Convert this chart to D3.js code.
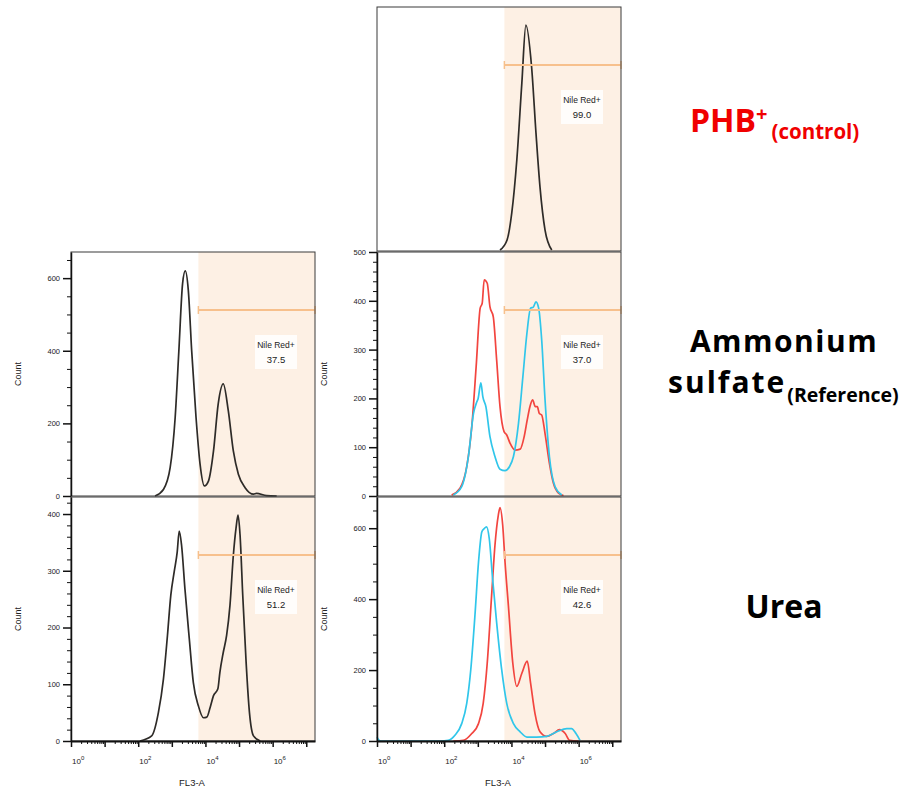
<!DOCTYPE html>
<html>
<head>
<meta charset="utf-8">
<script src="https://cdn.jsdelivr.net/npm/d3@7"></script>
<style>
  body { margin: 0; background: #fff; }
  text { font-family: "Liberation Sans", Arial, sans-serif; }
  text.title { font-family: "Open Sans", "Noto Sans", sans-serif; font-weight: bold; }
</style>
</head>
<body>
<div id="chart-area"></div>
<script>
// histogram traces, [log10 FL3-A, count]
const phbControl = [[3.66,4],[3.87,45],[4.01,156],[4.16,373],[4.31,689],[4.43,926],[4.60,754],[4.73,484],[4.85,262],[5.0,86],[5.2,4]];

const amsBlack = [[2.5,0],[2.75,18],[2.95,78],[3.10,217],[3.21,401],[3.32,585],[3.40,620],[3.49,567],[3.59,401],[3.72,217],[3.84,88],[3.97,28],[4.09,41],[4.24,124],[4.38,254],[4.53,309],[4.68,235],[4.83,124],[4.98,60],[5.18,23],[5.43,5],[5.52,7],[5.82,1],[6.12,0]];
const amsRed = [[2.22,2],[2.47,16],[2.67,60],[2.82,142],[2.95,265],[3.07,385],[3.13,395],[3.19,443],[3.28,436],[3.36,388],[3.46,367],[3.56,279],[3.66,183],[3.78,132],[3.86,125],[3.96,108],[4.11,94],[4.26,96],[4.38,122],[4.47,156],[4.55,183],[4.63,197],[4.71,183],[4.77,183],[4.83,169],[4.90,166],[5.0,128],[5.13,67],[5.25,26],[5.40,6],[5.55,1]];
const amsCyan = [[2.27,2],[2.52,19],[2.72,81],[2.87,169],[2.97,193],[3.01,200],[3.09,232],[3.15,203],[3.24,183],[3.36,122],[3.51,81],[3.66,55],[3.81,52],[3.94,60],[4.06,81],[4.21,149],[4.34,244],[4.46,333],[4.57,385],[4.65,387],[4.73,398],[4.81,385],[4.90,320],[5.0,197],[5.13,81],[5.30,19],[5.50,2]];

const ureaBlack = [[2.05,0],[2.40,9],[2.60,50],[2.75,109],[2.87,186],[2.97,257],[3.07,298],[3.16,333],[3.22,370],[3.29,345],[3.39,268],[3.52,180],[3.64,103],[3.79,62],[3.94,41],[4.04,42],[4.14,59],[4.24,80],[4.37,92],[4.43,121],[4.53,156],[4.63,186],[4.73,239],[4.83,327],[4.91,375],[4.97,398],[5.03,363],[5.11,257],[5.21,139],[5.31,50],[5.43,9],[5.63,0]];
const ureaRed = [[2.27,0],[2.57,2],[2.82,21],[3.02,49],[3.16,106],[3.28,220],[3.41,410],[3.51,552],[3.61,637],[3.66,658],[3.74,609],[3.81,504],[3.91,381],[4.04,220],[4.16,154],[4.31,191],[4.47,225],[4.57,163],[4.70,78],[4.85,26],[5.05,13],[5.25,21],[5.43,32],[5.60,21],[5.73,2],[6.0,0]];
const ureaCyan = [[0.0,11],[0.05,3],[0.12,0],[1.88,0],[2.12,2],[2.32,16],[2.52,49],[2.67,106],[2.79,201],[2.92,362],[3.02,504],[3.12,590],[3.19,599],[3.26,604],[3.34,571],[3.44,457],[3.56,334],[3.71,201],[3.86,106],[4.06,49],[4.26,26],[4.46,11],[4.75,11],[5.05,13],[5.35,26],[5.65,35],[5.79,35],[5.92,21],[6.04,2]];

const gateStart = 3.79;          // log10 of gate lower bound
const gateName = "Nile Red+";
const gateValues = ["99.0", "37.5", "37.0", "51.2", "42.6"];
const yMaxes = [1000, 672, 500, 430, 688];
const yMajor = [0, 200, 100, 100, 200];
const yMinor = [0, 50, 20, 20, 50];
const xLabelDecades = [0, 2, 4, 6];
const xMaxDecade = 7.26;

const rowNames = ["PHB", "Ammonium", "sulfate", "Urea"];

// layout
const size = 244;
const colX = [71, 377];
const rowY = [7, 252, 497];
const shade = "#fdf0e4", gateColor = "#f7c08c";
const black = "#2e2b28", red = "#f2453f", cyan = "#30c6ea";

const panels = [
    {col:1, row:0, series:[[phbControl, black]], yaxis:false, xaxis:false},
    {col:0, row:1, series:[[amsBlack, black]], yaxis:true, xaxis:false},
    {col:1, row:1, series:[[amsRed, red],[amsCyan, cyan]], yaxis:true, xaxis:false},
    {col:0, row:2, series:[[ureaBlack, black]], yaxis:true, xaxis:true},
    {col:1, row:2, series:[[ureaRed, red],[ureaCyan, cyan]], yaxis:true, xaxis:true}
];

const svg = d3.select("#chart-area").append("svg")
    .attr("width", 903)
    .attr("height", 789);

panels.forEach((p, i) => {
    const left = colX[p.col], top = rowY[p.row];
    const g = svg.append("g").attr("transform", `translate(${left}, ${top})`);

    const x = d3.scaleLog().domain([1, Math.pow(10, xMaxDecade)]).range([0, size]);
    const y = d3.scaleLinear().domain([0, yMaxes[i]]).range([size, 0]);
    const xd = v => x(Math.pow(10, v));

    g.append("rect").attr("width", size).attr("height", size).attr("fill", "#fff");
    // gate shading
    g.append("rect")
        .attr("x", xd(gateStart)).attr("width", size - xd(gateStart))
        .attr("height", size).attr("fill", shade);

    // curves
    const line = d3.line()
        .x(d => xd(d[0]))
        .y(d => y(d[1]))
        .curve(d3.curveMonotoneX);
    p.series.forEach(s => {
        g.append("path")
            .datum(s[0])
            .attr("fill", "none")
            .attr("stroke", s[1])
            .attr("stroke-width", 1.7)
            .attr("d", line);
    });

    // gate bar
    const gy = 58;
    const gx0 = xd(gateStart), gx1 = size;
    g.append("line").attr("x1", gx0).attr("x2", gx1).attr("y1", gy).attr("y2", gy)
        .attr("stroke", gateColor).attr("stroke-width", 2);
    [gx0, gx1].forEach(v => g.append("line").attr("x1", v).attr("x2", v)
        .attr("y1", gy - 4).attr("y2", gy + 4)
        .attr("stroke", gateColor).attr("stroke-width", 1.5));

    // gate label
    const lx = xd(6.1);
    g.append("rect").attr("x", lx - 21).attr("y", 83).attr("width", 42).attr("height", 34)
        .attr("fill", "#fffdfb");
    g.append("text").attr("x", lx).attr("y", 96).attr("text-anchor", "middle")
        .attr("font-size", "8.5px").attr("fill", "#222").text(gateName);
    g.append("text").attr("x", lx).attr("y", 111).attr("text-anchor", "middle")
        .attr("font-size", "9.5px").attr("fill", "#222").text(gateValues[i]);

    // frame
    g.append("rect").attr("width", size).attr("height", size)
        .attr("fill", "none").attr("stroke", "#3a3a3a").attr("stroke-width", 1);

    //Y
    if (p.yaxis) {
        const yAxis = d3.axisLeft(y)
            .tickValues(d3.range(0, yMaxes[i] + 1, yMinor[i]))
            .tickFormat(d => d % yMajor[i] === 0 ? d : "")
            .tickSizeOuter(0)
            .tickPadding(4);
        const ya = g.append("g").call(yAxis);
        ya.select(".domain").attr("stroke", "#111").attr("stroke-width", 1.5);
        ya.selectAll(".tick line")
            .attr("x2", d => d % yMajor[i] === 0 ? -8 : -4)
            .attr("stroke", "#111").attr("stroke-width", d => d % yMajor[i] === 0 ? 1.5 : 1);
        ya.selectAll(".tick text")
            .attr("x", -11)
            .attr("font-size", "7.5px").attr("fill", "#222")
            .style("font-family", "'Liberation Sans', Arial, sans-serif");

        g.append("text")
            .attr("x", -size / 2).attr("y", -50)
            .attr("transform", "rotate(-90)")
            .attr("text-anchor", "middle")
            .attr("font-size", "9px").attr("fill", "#222")
            .text("Count");
    }

    //X
    if (p.xaxis) {
        const isMajor = d => Math.abs(Math.log10(d) - Math.round(Math.log10(d))) < 1e-9;
        const xAxis = d3.axisBottom(x)
            .tickValues(x.ticks())
            .tickFormat("")
            .tickSizeOuter(0);
        const xa = g.append("g").attr("transform", `translate(0, ${size})`).call(xAxis);
        xa.select(".domain").attr("stroke", "#111").attr("stroke-width", 2);
        xa.selectAll(".tick line")
            .attr("y2", d => isMajor(d) ? 6 : 3)
            .attr("stroke", "#111").attr("stroke-width", d => isMajor(d) ? 1.5 : 1);

        xLabelDecades.forEach(k => {
            const t = g.append("text")
                .attr("x", xd(k) + 1).attr("y", size + 23)
                .attr("font-size", "8px").attr("fill", "#222");
            t.append("tspan").text("10");
            t.append("tspan").attr("dy", -4).attr("font-size", "6px").text(k);
        });

        g.append("text")
            .attr("x", size / 2 - 1).attr("y", size + 45)
            .attr("text-anchor", "middle")
            .attr("font-size", "9.5px").attr("fill", "#222")
            .text("FL3-A");
    }
});

// row titles
const phb = svg.append("text").attr("class", "title")
    .attr("x", 690).attr("y", 132).attr("fill", "#f00000").attr("font-size", "32px");
phb.append("tspan").text(rowNames[0]);
phb.append("tspan").attr("dy", -11).attr("font-size", "20px").text("+");
phb.append("tspan").attr("dy", 18).attr("dx", 4).attr("font-size", "20.5px").text("(control)");

svg.append("text").attr("class", "title")
    .attr("x", 784).attr("y", 352).attr("text-anchor", "middle")
    .attr("font-size", "30px").attr("letter-spacing", "1.5px").attr("fill", "#000")
    .text(rowNames[1]);
const sul = svg.append("text").attr("class", "title")
    .attr("x", 668).attr("y", 393).attr("font-size", "30px").attr("fill", "#000");
sul.append("tspan").attr("letter-spacing", "2px").text(rowNames[2]);
sul.append("tspan").attr("dy", 9).attr("dx", 1).attr("font-size", "19.5px").text("(Reference)");

svg.append("text").attr("class", "title").attr("x", 784).attr("y", 618).attr("text-anchor", "middle")
    .attr("font-size", "32px").attr("fill", "#000").text(rowNames[3]);
</script>
</body>
</html>
